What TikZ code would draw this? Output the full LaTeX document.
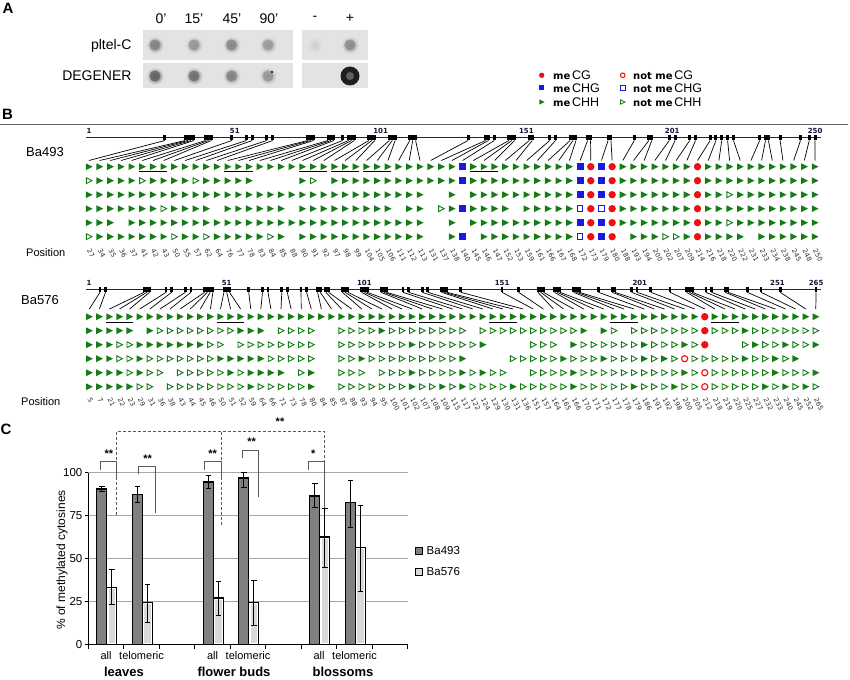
\documentclass[tikz,border=0pt]{standalone}
\usepackage{fontspec}
\setmainfont{Liberation Sans}
\newfontfamily\djv{DejaVu Sans}
\definecolor{mgreen}{RGB}{22,125,22}
\definecolor{mblue}{RGB}{25,25,230}
\definecolor{mred}{RGB}{240,15,15}
\definecolor{rulercol}{RGB}{20,20,50}
\colorlet{boxgray}{black!11}
\colorlet{bardark}{black!50}
\colorlet{barlight}{black!15}
\makeatletter
\newcount\mycol
\newcommand\drawrow[4]{%
  \global\mycol=0\relax
  \@tfor\mych:=#1\do{%
    \pgfmathsetmacro\myx{#3+\the\mycol*#4}%
    \csname mysym\mych\endcsname{\myx}{#2}%
    \global\advance\mycol by 1\relax}}
\makeatother
\newcommand\mysymF[2]{\fill[mgreen,shift={(#1,#2)}] (-3.2,-3.4) -- (3.6,0) -- (-3.2,3.4) -- cycle;}
\newcommand\mysymO[2]{\draw[mgreen,line width=0.9pt,shift={(#1,#2)}] (-2.7,-2.9) -- (2.9,0) -- (-2.7,2.9) -- cycle;}
\newcommand\mysymS[2]{\fill[mblue,shift={(#1,#2)}] (-3.4,-3.4) rectangle (3.4,3.4);}
\newcommand\mysymQ[2]{\draw[mblue,line width=1.1pt,shift={(#1,#2)}] (-2.8,-2.8) rectangle (2.8,2.8);}
\newcommand\mysymC[2]{\fill[mred] (#1,#2) circle[radius=3.7];}
\newcommand\mysymR[2]{\draw[mred,line width=1.1pt] (#1,#2) circle[radius=3.1];}
\newcommand\mysymN[2]{}
% blot spot: x, y, darkness
\newcommand\myspot[3]{%
  \shade[inner color=black!#3,outer color=boxgray] (#1,#2) circle[radius=8.8];
  \fill[black!#3,opacity=0.75] (#1,#2) circle[radius=5.6];}
% bars: slot, dark val, dlo, dhi, light val, llo, lhi
\newcommand\mybars[7]{%
  \pgfmathsetmacro\bx{88.3+35.5*#1}%
  \filldraw[fill=bardark,draw=black,line width=1.3pt] ({\bx+8.5},644.3) rectangle ({\bx+18.5},{644.3-#2*1.716});
  \filldraw[fill=white,draw=black,line width=1.3pt] ({\bx+18.5},644.3) rectangle ({\bx+28.5},{644.3-#5*1.716});
  \fill[barlight] ({\bx+20.2},643) rectangle ({\bx+26.8},{644.3-#5*1.716+1.7});
  \draw[line width=0.8pt] ({\bx+13.5},{644.3-#3*1.716}) -- ({\bx+13.5},{644.3-#4*1.716})
     ({\bx+10.8},{644.3-#3*1.716}) -- ({\bx+16.2},{644.3-#3*1.716})
     ({\bx+10.8},{644.3-#4*1.716}) -- ({\bx+16.2},{644.3-#4*1.716});
  \draw[line width=0.8pt] ({\bx+23.5},{644.3-#6*1.716}) -- ({\bx+23.5},{644.3-#7*1.716})
     ({\bx+20.8},{644.3-#6*1.716}) -- ({\bx+26.2},{644.3-#6*1.716})
     ({\bx+20.8},{644.3-#7*1.716}) -- ({\bx+26.2},{644.3-#7*1.716});
}
\begin{document}
\begin{tikzpicture}[x=1pt,y=-1pt,
  txt/.style={inner sep=0pt,font=\fontsize{13}{15}\selectfont},
  blotlbl/.style={inner sep=0pt,font=\fontsize{14}{16}\selectfont},
  panel/.style={inner sep=0pt,font=\fontsize{15}{17}\selectfont\bfseries},
  rulerlbl/.style={inner sep=0pt,font=\djv\bfseries\fontsize{7}{8}\selectfont,text=rulercol},
  poslbl/.style={inner sep=0pt,font=\djv\fontsize{6.6}{7}\selectfont,text=black!85,rotate=-62,anchor=west},
  conn/.style={line width=0.7pt},
  rulerline/.style={line width=1.1pt,black!85},
  uline/.style={line width=1.3pt},
  gridl/.style={draw=black!35,line width=0.9pt},
  sig/.style={draw=black!65,line width=0.9pt},
  sigdash/.style={draw=black!65,line width=0.9pt,dash pattern=on 3pt off 2pt},
  star/.style={inner sep=0pt,font=\fontsize{11}{12}\selectfont\bfseries},
  legtxt/.style={inner sep=0pt,anchor=west,font=\fontsize{12.5}{14}\selectfont},
]
\useasboundingbox (0,0) rectangle (850,679);
\fill[white] (0,0) rectangle (850,679);

% ---------------- Panel A ----------------
\node[panel] (pA) at (8,8.5) {A};
\foreach \t/\x [count=\k] in {0'/161,15'/194,45'/232,90'/269,-/315,+/350}
  \node[blotlbl] (hd\k) at (\x,18.5) {\t};
\node[blotlbl,anchor=east] (rl1) at (131.7,45.5) {pltel-C};
\node[blotlbl,anchor=east] (rl2) at (131.7,76) {DEGENER};
\fill[boxgray] (142.7,30) rectangle (292.7,60);
\fill[boxgray] (142.7,63.3) rectangle (292.7,88.3);
\fill[boxgray] (302.3,30) rectangle (368,60);
\fill[boxgray] (302.3,63.3) rectangle (368,88.3);
\myspot{155}{45}{50}
\myspot{194}{45}{42}
\myspot{231.5}{45}{48}
\myspot{268}{45}{40}
\myspot{350}{45}{46}
\shade[inner color=black!20,outer color=boxgray] (315,45) circle[radius=8];
\myspot{155}{76}{63}
\myspot{194}{76}{58}
\myspot{231.5}{76}{50}
\myspot{268}{76}{42}
\fill[black!88] (350,76) circle[radius=9.5];
\fill[black!62] (350,76) circle[radius=4];
\fill[black] (272,72) circle[radius=1.1];

% ---------------- Legend ----------------
\fill[mred] (541.7,75.3) circle[radius=2.7];
\draw[mred,line width=1pt] (622.7,75.3) circle[radius=2.3];
\fill[mblue] (539.2,85.5) rectangle (544.2,90.5);
\draw[mblue,line width=1pt] (620.4,85.8) rectangle (625,90.2);
\fill[mgreen] (539.4,99.4) -- (544.6,102) -- (539.4,104.6) -- cycle;
\draw[mgreen,line width=0.8pt] (620.4,99.8) -- (625,102) -- (620.4,104.2) -- cycle;
\foreach \y/\s [count=\k] in {75.3/CG,88/CHG,102/CHH}{
  \node[legtxt] (lm\k) at (553,\y) {{\djv\bfseries\fontsize{10}{12}\selectfont me}\hspace{1.6pt}\s};
  \node[legtxt] (ln\k) at (633,\y) {{\djv\bfseries\fontsize{10}{12}\selectfont not me}\hspace{1.6pt}\s};
}

% ---------------- Panel B ----------------
\node[panel] (pB) at (7.5,114.5) {B};
\draw[black!60,line width=1.2pt] (0,124.5) -- (848,124.5);

% Ba493
\node[txt,anchor=west] (n493) at (26,151.7) {Ba493};
\node[txt,anchor=west,font=\fontsize{11}{13}\selectfont] (pos1) at (26,253) {Position};
\draw[rulerline] (86,137.5) -- (821,137.5);
\foreach \p in {1,51,101,151,201,250}
  \node[rulerlbl] (ra\p) at ({89+(\p-1)*2.916},131) {\p};
\foreach \p [count=\i from 0] in {27,34,35,36,37,41,42,43,50,55,57,62,64,76,77,78,83,84,85,88,90,91,92,97,98,99,104,105,106,111,112,113,131,137,138,140,145,146,147,152,153,159,161,166,167,168,172,173,179,180,188,193,194,200,202,207,209,214,216,218,220,222,231,233,234,238,245,248,250}{
  \pgfmathsetmacro\px{89+(\p-1)*2.916}
  \pgfmathsetmacro\cx{89+\i*10.676}
  \fill ({\px-1.46},134.8) rectangle ({\px+1.46},140.5);
  \coordinate (ua\i) at (\px,140.5);
  \coordinate (ub\i) at (\cx,160.5);
  \draw[conn] (ua\i) -- (ub\i);
  \node[poslbl] (pa\i) at ({\cx},249.5) {\p};
}
\drawrow{FFFFFFFFFFFFFFFFFFFFFFFFFFFFFFFFFFFSFFFFFFFFFFSCSCFFFFFFFCFFFFFFFFFFF}{166.7}{89}{10.676}
\drawrow{OFFFFOFFFFOFFFFFNNNNFONFFFFFFFFFFFFSFFFFFFFFFFSCSCFFFFFFFCFFFFFFFFFFF}{180.7}{89}{10.676}
\drawrow{FFFFFFFFFFFFFFFFFFFFFFFFFFFFFFFFNNFNFFFFFFFFFFSCSCFFFFFFFCFFOFFFFFFFF}{194.7}{89}{10.676}
\drawrow{FFFFFFFOFFFFNFFFFFFNFFFFFFFFFNFFNOFSFFFFNFFFFFQCQCFFFFFFFCFFFFFFFFFFF}{208.7}{89}{10.676}
\drawrow{FFFNFFFFFFFFFFFFFFFFFFFFFFFFFFFFNNFNFFFFFFFFFFSCSCFFFFFFFCFFOFFFFFFFF}{222.7}{89}{10.676}
\drawrow{OFFFFFFFOFFOFFFFFOFNFFFFFFFFFFFFNNFSNFFFFFFFFFQCSCNFFFOOFCFFFFNFFFFFF}{236.7}{89}{10.676}
\foreach \a/\b in {5/7,13/15,20/22,23/25,26/28,36/38}
  \draw[uline] ({89+\a*10.676-3.5},171.3) -- ({89+\b*10.676+3.5},171.3);

% Ba576
\node[txt,anchor=west] (n576) at (21,300) {Ba576};
\node[txt,anchor=west,font=\fontsize{11}{13}\selectfont] (pos2) at (21,401.7) {Position};
\draw[rulerline] (86,289.3) -- (821,289.3);
\foreach \p in {1,51,101,151,201,251,265}
  \node[rulerlbl] (rb\p) at ({89+(\p-1)*2.754},282.5) {\p};
\foreach \p [count=\i from 0] in {5,7,21,22,23,29,31,36,38,43,44,45,46,50,51,52,59,64,66,71,73,78,80,84,85,87,88,93,94,95,100,101,102,107,108,109,115,117,122,124,129,130,131,136,151,157,164,165,166,170,171,172,177,178,179,186,191,192,198,200,205,212,218,219,220,225,227,232,233,240,245,252,265}{
  \pgfmathsetmacro\px{89+(\p-1)*2.754}
  \pgfmathsetmacro\cx{89.3+\i*10.09}
  \fill ({\px-1.38},286.6) rectangle ({\px+1.38},292.3);
  \coordinate (va\i) at (\px,292.3);
  \coordinate (vb\i) at (\cx,309);
  \draw[conn] (va\i) -- (vb\i);
  \node[poslbl] (pb\i) at ({\cx},398.5) {\p};
}
\drawrow{FFFFFFFFFFFFFFFFFFFFFFFFFFFFFFFFFFFFFFFFFFFFFFFFFFFFFFFFFFFFFCFFFFFFFFFFF}{316.7}{89.3}{10.09}
\drawrow{FFFFFNFOOOOOOOOFFFNOOOONNOOOOFOOOOOOOONOOOOOOOOOOFNFONOOOOOOOCOOOFOOOOOOO}{330.7}{89.3}{10.09}
\drawrow{FFFOOFFFFFFFOONOOOOOOOONNOOOOOOOFOOOOOOFNNNNOOONFOOOOOOFOOOFOCNNNOFOOFOOF}{344.7}{89.3}{10.09}
\drawrow{FFFOOFOOOOOOOFFFFFOOOOONNOOFOOOOOOOOOFNNNNOOOOOFOOOFOOOFOFOROOOOOFOOFOF}{358.7}{89.3}{10.09}
\drawrow{FFFFOFOONOOOOOFOFFFFNOFNNOOONOOOFOOOOFOFOONNOOOOFOOOOOOOOOOFOROOOOOOFOOOF}{372.7}{89.3}{10.09}
\drawrow{FFFFFOONOOOOOOOOFOOOOOFNNOOOOOOOFOOFOFOOOOFOOOOOFOOOOOFOOOFOOROOOOOFOFOFO}{386.7}{89.3}{10.09}
\foreach \a/\b in {2/4,13/15,27/29,30/32,33/35,40/42,52/54,62/64}
  \draw[uline] ({89.3+\a*10.09-3.5},322.3) -- ({89.3+\b*10.09+3.5},322.3);

% ---------------- Panel C ----------------
\node[panel] (pC) at (6,429) {C};
\foreach \v in {25,50,75,100}
  \draw[gridl] (88.3,{644.3-\v*1.716}) -- (408.3,{644.3-\v*1.716});
\foreach \v in {0,25,50,75,100}{
  \draw[line width=0.9pt] (85,{644.3-\v*1.716}) -- (88.3,{644.3-\v*1.716});
  \node[inner sep=0pt,anchor=east,font=\fontsize{11.5}{13}\selectfont] (yt\v) at (82.5,{644.3-\v*1.716}) {\v};
}
\draw[line width=1.3pt] (88.3,472.7) -- (88.3,644.3) -- (408.3,644.3);
\foreach \k in {0,...,9}
  \draw[line width=0.9pt] ({88.3+35.5*\k},644.3) -- ({88.3+35.5*\k},648.5);
\node[inner sep=0pt,rotate=90,font=\fontsize{12}{14}\selectfont] (ytitle) at (62,560) {\% of methylated cytosines};

\mybars{0}{90.5}{89}{92}{33.3}{23}{43.5}
\mybars{1}{87.5}{82.5}{92.2}{24.5}{13}{35}
\mybars{3}{94.5}{91}{98.5}{27}{17}{36.5}
\mybars{4}{97}{91.5}{100}{24.5}{11}{37}
\mybars{6}{86.5}{80}{93.5}{62.5}{45}{79}
\mybars{7}{82.5}{68}{95.5}{56.3}{31}{81}

\foreach \k/\t [count=\j] in {0/all,1/telomeric,3/all,4/telomeric,6/all,7/telomeric}
  \node[inner sep=0pt,font=\fontsize{11}{13}\selectfont] (xl\j) at ({88.3+35.5*\k+17.75},656) {\t};
\node[inner sep=0pt,font=\fontsize{13}{15}\selectfont\bfseries] (g1) at (124,672) {leaves};
\node[inner sep=0pt,font=\fontsize{13}{15}\selectfont\bfseries] (g2) at (234,672) {flower buds};
\node[inner sep=0pt,font=\fontsize{13}{15}\selectfont\bfseries] (g3) at (343,672) {blossoms};

% significance
\draw[sigdash] (116,515) -- (116,431.7) -- (324,431.7) -- (324,480);
\draw[sigdash] (221,431.7) -- (221,525);
\draw[sig] (100,470) -- (100,461.7) -- (116,461.7) -- (116,478);
\draw[sig] (138.3,474.3) -- (138.3,466.7) -- (155,466.7) -- (155,513.3);
\draw[sig] (204,470) -- (204,461.7) -- (221,461.7) -- (221,478);
\draw[sig] (242.3,458.3) -- (242.3,450) -- (258.3,450) -- (258.3,496.7);
\draw[sig] (308.3,470) -- (308.3,461.7) -- (324,461.7) -- (324,508);
\node[star] (s1) at (109,453.5) {**};
\node[star] (s2) at (147.7,458.5) {**};
\node[star] (s3) at (212.7,453.5) {**};
\node[star] (s4) at (251.7,441.5) {**};
\node[star] (s5) at (313.3,453.5) {*};
\node[star] (s6) at (280,421.5) {**};

% legend C
\filldraw[fill=bardark,draw=black,line width=1pt] (415.8,547.5) rectangle (422.8,554.5);
\filldraw[fill=barlight,draw=black,line width=1pt] (415.8,568.2) rectangle (422.8,575.2);
\node[inner sep=0pt,anchor=west,font=\fontsize{11.5}{13}\selectfont] (lg1) at (426.5,551) {Ba493};
\node[inner sep=0pt,anchor=west,font=\fontsize{11.5}{13}\selectfont] (lg2) at (426.5,571.7) {Ba576};
\end{tikzpicture}
\end{document}
